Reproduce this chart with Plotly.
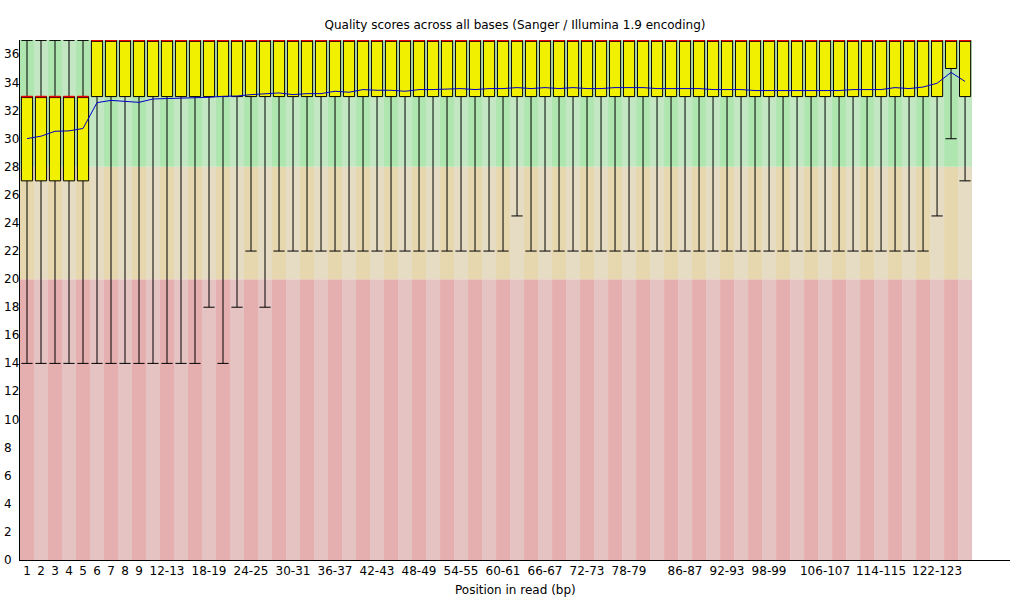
import plotly.graph_objects as go

# ---------------- data ----------------
positions = [
    "1", "2", "3", "4", "5", "6", "7", "8", "9",
    "10-11", "12-13", "14-15", "16-17", "18-19", "20-21", "22-23", "24-25",
    "26-27", "28-29", "30-31", "32-33", "34-35", "36-37", "38-39", "40-41",
    "42-43", "44-45", "46-47", "48-49", "50-51", "52-53", "54-55", "56-57",
    "58-59", "60-61", "62-63", "64-65", "66-67", "68-69", "70-71", "72-73",
    "74-75", "76-77", "78-79", "80-81", "82-83", "84-85", "86-87", "88-89",
    "90-91", "92-93", "94-95", "96-97", "98-99", "100-101", "102-103",
    "104-105", "106-107", "108-109", "110-111", "112-113", "114-115",
    "116-117", "118-119", "120-121", "122-123", "124-125", "126",
]

shown_labels = [
    "1", "2", "3", "4", "5", "6", "7", "8", "9", "12-13", "18-19", "24-25",
    "30-31", "36-37", "42-43", "48-49", "54-55", "60-61", "66-67", "72-73",
    "78-79", "86-87", "92-93", "98-99", "106-107", "114-115", "122-123",
]

lower_whisker = [
    14, 14, 14, 14, 14, 14, 14, 14, 14, 14, 14, 14, 14, 18, 14, 18, 22, 18, 22, 22,
    22, 22, 22, 22, 22, 22, 22, 22, 22, 22, 22, 22, 22, 22, 22, 24.5, 22, 22, 22, 22,
    22, 22, 22, 22, 22, 22, 22, 22, 22, 22, 22, 22, 22, 22, 22, 22, 22, 22, 22, 22,
    22, 22, 22, 22, 22, 24.5, 30, 27,
]

lower_quartile = [
    27, 27, 27, 27, 27, 33, 33, 33, 33, 33, 33, 33, 33, 33, 33, 33, 33, 33, 33, 33,
    33, 33, 33, 33, 33, 33, 33, 33, 33, 33, 33, 33, 33, 33, 33, 33, 33, 33, 33, 33,
    33, 33, 33, 33, 33, 33, 33, 33, 33, 33, 33, 33, 33, 33, 33, 33, 33, 33, 33, 33,
    33, 33, 33, 33, 33, 33, 35, 33,
]

median = [
    33, 33, 33, 33, 33, 37, 37, 37, 37, 37, 37, 37, 37, 37, 37, 37, 37, 37, 37, 37,
    37, 37, 37, 37, 37, 37, 37, 37, 37, 37, 37, 37, 37, 37, 37, 37, 37, 37, 37, 37,
    37, 37, 37, 37, 37, 37, 37, 37, 37, 37, 37, 37, 37, 37, 37, 37, 37, 37, 37, 37,
    37, 37, 37, 37, 37, 37, 37, 37,
]

upper_quartile = [
    33, 33, 33, 33, 33, 37, 37, 37, 37, 37, 37, 37, 37, 37, 37, 37, 37, 37, 37, 37,
    37, 37, 37, 37, 37, 37, 37, 37, 37, 37, 37, 37, 37, 37, 37, 37, 37, 37, 37, 37,
    37, 37, 37, 37, 37, 37, 37, 37, 37, 37, 37, 37, 37, 37, 37, 37, 37, 37, 37, 37,
    37, 37, 37, 37, 37, 37, 37, 37,
]

upper_whisker = [
    37, 37, 37, 37, 37, 37, 37, 37, 37, 37, 37, 37, 37, 37, 37, 37, 37, 37, 37, 37,
    37, 37, 37, 37, 37, 37, 37, 37, 37, 37, 37, 37, 37, 37, 37, 37, 37, 37, 37, 37,
    37, 37, 37, 37, 37, 37, 37, 37, 37, 37, 37, 37, 37, 37, 37, 37, 37, 37, 37, 37,
    37, 37, 37, 37, 37, 37, 37, 37,
]

mean_quality = [
    30.01, 30.18, 30.53, 30.56, 30.73, 32.57, 32.73, 32.66, 32.59, 32.83,
    32.85, 32.88, 32.92, 32.95, 33.02, 33.04, 33.14, 33.21, 33.26, 33.14,
    33.21, 33.21, 33.38, 33.31, 33.50, 33.45, 33.45, 33.38, 33.50, 33.50,
    33.52, 33.57, 33.50, 33.57, 33.57, 33.64, 33.57, 33.64, 33.57, 33.64,
    33.57, 33.57, 33.64, 33.64, 33.64, 33.57, 33.57, 33.57, 33.57, 33.50,
    33.50, 33.50, 33.43, 33.43, 33.43, 33.43, 33.43, 33.43, 33.43, 33.50,
    33.50, 33.50, 33.64, 33.57, 33.68, 33.95, 34.72, 34.08,
]

# quality zones (phred score boundaries)
zone_bounds = [0, 20, 28]
y_ticks = [0, 2, 4, 6, 8, 10, 12, 14, 16, 18, 20, 22, 24, 26, 28, 30, 32, 34, 36]

# ---------------- styles ----------------
FONT = "DejaVu Sans"
Y_MAX = 37.03
X_MAX = 70.21
BOX_W = 0.8
FIG_W, FIG_H = 1020, 600
PLOT_W, PLOT_H = 990, 520
zone_colors = [
    ("rgb(230,175,175)", "rgb(230,195,195)"),  # bad
    ("rgb(230,215,175)", "rgb(230,220,195)"),  # ok
    ("rgb(175,230,175)", "rgb(195,230,195)"),  # good
]

x_idx = list(range(len(positions)))

fig = go.Figure()

# background zones, alternating column shades
shapes = []
zone_tops = zone_bounds[1:] + [Y_MAX]
for i in x_idx:
    for z, (lo, hi) in enumerate(zip(zone_bounds, zone_tops)):
        col = zone_colors[z][0] if i % 2 == 0 else zone_colors[z][1]
        shapes.append(dict(type="rect", xref="x", yref="y", x0=i - 0.5, x1=i + 0.5,
                           y0=lo, y1=hi, fillcolor=col, line=dict(width=0),
                           layer="below"))

fig.add_trace(go.Box(
    x=x_idx,
    q1=lower_quartile, median=median, q3=upper_quartile,
    lowerfence=lower_whisker, upperfence=upper_whisker,
    width=BOX_W, whiskerwidth=1,
    fillcolor="rgb(240,240,0)",
    line=dict(color="black", width=1),
    boxpoints=False, showlegend=False, hoverinfo="skip",
))

# red median marks
mx, my = [], []
for i, m in zip(x_idx, median):
    mx += [i - BOX_W / 2, i + BOX_W / 2, None]
    my += [m, m, None]
fig.add_trace(go.Scatter(x=mx, y=my, mode="lines",
                         line=dict(color="rgb(235,0,0)", width=1.6),
                         showlegend=False, hoverinfo="skip", cliponaxis=False))

# mean line
fig.add_trace(go.Scatter(x=x_idx, y=mean_quality, mode="lines",
                         line=dict(color="rgb(0,0,200)", width=1),
                         showlegend=False, hoverinfo="skip"))

annotations = []
for t in y_ticks:
    annotations.append(dict(text=str(t), xref="paper", yref="y", x=-18 / PLOT_W, y=t,
                            xanchor="left", yanchor="middle", showarrow=False,
                            font=dict(family=FONT, size=12, color="black")))
annotations.append(dict(text="Position in read (bp)", xref="paper", yref="paper",
                        x=0.5, y=-30 / PLOT_H, xanchor="center", yanchor="middle",
                        showarrow=False,
                        font=dict(family=FONT, size=12, color="black")))

fig.update_layout(
    width=FIG_W, height=FIG_H,
    margin=dict(l=20, r=10, t=40, b=40, autoexpand=False),
    paper_bgcolor="white", plot_bgcolor="white",
    shapes=shapes,
    annotations=annotations,
    showlegend=False,
    title=dict(text="Quality scores across all bases (Sanger / Illumina 1.9 encoding)",
               x=0.5, xref="paper", xanchor="center",
               y=1 - 25 / FIG_H, yref="container", yanchor="middle",
               automargin=False,
               font=dict(family=FONT, size=12, color="black")),
    font=dict(family=FONT, size=12, color="black"),
)

fig.update_xaxes(
    range=[-0.5, X_MAX],
    tickmode="array",
    tickvals=[positions.index(l) for l in shown_labels],
    ticktext=shown_labels,
    ticks="", showgrid=False, zeroline=False, automargin=False,
    showline=True, linecolor="black", linewidth=1,
    tickfont=dict(family=FONT, size=12, color="black"),
)
fig.update_yaxes(
    range=[0, Y_MAX],
    showticklabels=False, ticks="", showgrid=False, zeroline=False, automargin=False,
    showline=True, linecolor="black", linewidth=1,
)

# remove the browser's default page margin so the figure fills the window
fig.write_html(
    "out.html",
    config={"displayModeBar": False},
    post_script="document.body.style.margin='0';document.body.style.overflow='hidden';",
)
